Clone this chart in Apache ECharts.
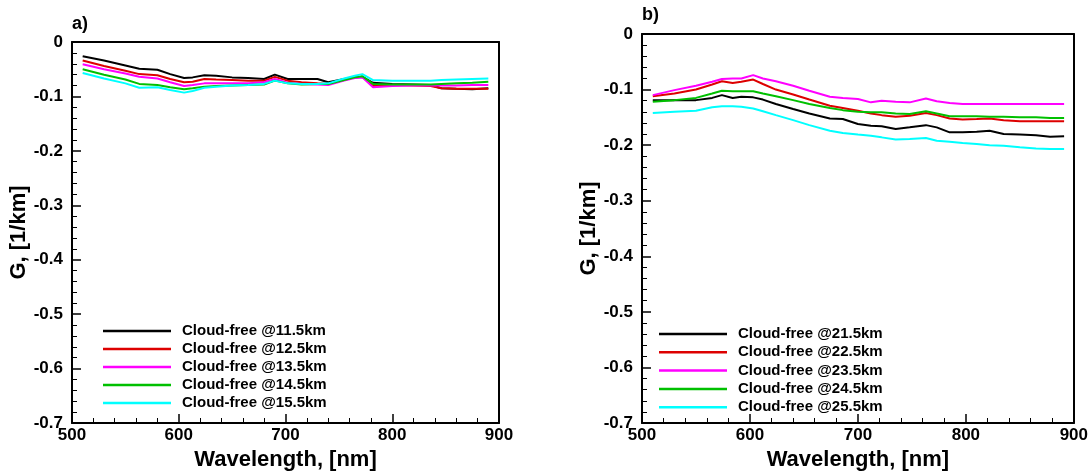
<!DOCTYPE html>
<html><head><meta charset="utf-8">
<script src="https://cdn.jsdelivr.net/npm/echarts@6/dist/echarts.min.js"></script>
<style>html,body{margin:0;padding:0;background:#fff}#c{width:1091px;height:476px}</style>
</head><body><div id="c"></div>
<script>
// ---- Panel a data ----
const waveA = [510,530,550,563,580,592,605,613,624,635,650,665,680,690,702,715,730,740,755,765,772,782,800,820,836,846,860,875,890];
const gA_11_5 = [-0.026,-0.034,-0.043,-0.049,-0.051,-0.059,-0.066,-0.065,-0.061,-0.062,-0.065,-0.066,-0.068,-0.060,-0.068,-0.068,-0.068,-0.074,-0.068,-0.065,-0.064,-0.075,-0.077,-0.078,-0.079,-0.085,-0.086,-0.087,-0.085];
const gA_12_5 = [-0.034,-0.044,-0.053,-0.059,-0.061,-0.068,-0.074,-0.073,-0.068,-0.069,-0.070,-0.071,-0.071,-0.064,-0.071,-0.074,-0.076,-0.077,-0.069,-0.065,-0.064,-0.081,-0.079,-0.080,-0.081,-0.085,-0.086,-0.086,-0.086];
const gA_13_5 = [-0.041,-0.050,-0.058,-0.064,-0.067,-0.074,-0.081,-0.079,-0.076,-0.076,-0.076,-0.076,-0.074,-0.068,-0.075,-0.077,-0.078,-0.079,-0.071,-0.066,-0.065,-0.083,-0.081,-0.080,-0.080,-0.080,-0.080,-0.079,-0.079];
const gA_14_5 = [-0.050,-0.060,-0.069,-0.077,-0.079,-0.083,-0.087,-0.085,-0.082,-0.081,-0.080,-0.079,-0.078,-0.071,-0.076,-0.078,-0.077,-0.077,-0.070,-0.065,-0.063,-0.077,-0.078,-0.078,-0.078,-0.077,-0.076,-0.075,-0.073];
const gA_15_5 = [-0.057,-0.067,-0.076,-0.084,-0.083,-0.088,-0.093,-0.090,-0.084,-0.082,-0.080,-0.079,-0.077,-0.071,-0.076,-0.077,-0.077,-0.076,-0.067,-0.062,-0.059,-0.070,-0.071,-0.071,-0.071,-0.070,-0.069,-0.068,-0.067];
const namesA = ['Cloud-free @11.5km','Cloud-free @12.5km','Cloud-free @13.5km','Cloud-free @14.5km','Cloud-free @15.5km'];

// ---- Panel b data ----
const waveB = [510,530,550,565,574,584,592,603,612,624,640,655,674,686,700,712,722,735,748,763,773,785,797,810,822,835,850,865,878,891];
const gB_21_5 = [-0.119,-0.119,-0.119,-0.115,-0.110,-0.115,-0.113,-0.114,-0.118,-0.126,-0.135,-0.143,-0.152,-0.153,-0.162,-0.165,-0.166,-0.171,-0.168,-0.164,-0.168,-0.177,-0.177,-0.176,-0.174,-0.180,-0.181,-0.182,-0.185,-0.184];
const gB_22_5 = [-0.112,-0.107,-0.100,-0.091,-0.085,-0.088,-0.086,-0.082,-0.090,-0.100,-0.109,-0.118,-0.129,-0.133,-0.138,-0.143,-0.146,-0.149,-0.147,-0.142,-0.146,-0.152,-0.154,-0.153,-0.152,-0.155,-0.157,-0.157,-0.157,-0.157];
const gB_23_5 = [-0.110,-0.101,-0.093,-0.086,-0.081,-0.080,-0.080,-0.074,-0.080,-0.085,-0.093,-0.102,-0.113,-0.115,-0.117,-0.123,-0.120,-0.122,-0.123,-0.116,-0.121,-0.124,-0.126,-0.126,-0.126,-0.126,-0.126,-0.126,-0.126,-0.126];
const gB_24_5 = [-0.122,-0.119,-0.115,-0.107,-0.102,-0.103,-0.103,-0.103,-0.107,-0.112,-0.119,-0.126,-0.133,-0.137,-0.140,-0.141,-0.141,-0.143,-0.144,-0.139,-0.143,-0.148,-0.148,-0.148,-0.149,-0.149,-0.150,-0.150,-0.151,-0.151];
const gB_25_5 = [-0.142,-0.140,-0.138,-0.132,-0.130,-0.130,-0.131,-0.134,-0.139,-0.146,-0.155,-0.164,-0.174,-0.178,-0.181,-0.183,-0.186,-0.190,-0.189,-0.187,-0.192,-0.194,-0.196,-0.198,-0.200,-0.201,-0.204,-0.206,-0.207,-0.207];
const namesB = ['Cloud-free @21.5km','Cloud-free @22.5km','Cloud-free @23.5km','Cloud-free @24.5km','Cloud-free @25.5km'];

const colors = ['#000000','#dd0000','#ff00ff','#00c000','#00ffff'];

const FONT = 'Liberation Sans, Arial, sans-serif';
function pair(xs, ys){ return xs.map((x,i)=>[x, ys[i]]); }

const seriesA = [gA_11_5,gA_12_5,gA_13_5,gA_14_5,gA_15_5];
const seriesB = [gB_21_5,gB_22_5,gB_23_5,gB_24_5,gB_25_5];

const tickStyle = {color:'#000', width:1.5};
function xAxisCfg(idx){
  return {
    gridIndex: idx, type:'value', position:'bottom', min:500, max:900, interval:100,
    name:'Wavelength, [nm]', nameLocation:'middle', nameGap:26,
    nameTextStyle:{fontFamily:FONT, fontWeight:'bold', fontSize:22, color:'#000'},
    axisLine:{show:true, onZero:false, lineStyle:{color:'#000', width:2}},
    axisTick:{show:true, inside:true, length:9, lineStyle:tickStyle},
    minorTick:{show:true, splitNumber:5, length:5, lineStyle:{color:'#000', width:1}},
    axisLabel:{show:true, fontFamily:FONT, fontWeight:'bold', fontSize:17, color:'#000', margin:4},
    splitLine:{show:false}, minorSplitLine:{show:false}, z:5
  };
}
function xTopCfg(idx){
  return {
    gridIndex: idx, type:'value', position:'top', min:500, max:900, interval:100,
    axisLine:{show:true, onZero:false, lineStyle:{color:'#000', width:2}},
    axisTick:{show:false}, axisLabel:{show:false}, splitLine:{show:false}, z:5
  };
}
function yAxisCfg(idx){
  return {
    gridIndex: idx, type:'value', position:'left', min:-0.7, max:0, interval:0.1,
    name:'G, [1/km]', nameLocation:'middle', nameGap:39, nameRotate:90,
    nameTextStyle:{fontFamily:FONT, fontWeight:'bold', fontSize:22, color:'#000'},
    axisLine:{show:true, onZero:false, lineStyle:{color:'#000', width:2}},
    axisTick:{show:true, inside:true, length:9, lineStyle:tickStyle},
    minorTick:{show:true, splitNumber:5, length:5, lineStyle:{color:'#000', width:1}},
    axisLabel:{show:true, fontFamily:FONT, fontWeight:'bold', fontSize:17, color:'#000', margin:9,
      formatter: v => (Math.abs(v) < 1e-9 ? '0' : v.toFixed(1))},
    splitLine:{show:false}, minorSplitLine:{show:false}, z:5
  };
}
function yRightCfg(idx){
  return {
    gridIndex: idx, type:'value', position:'right', min:-0.7, max:0, interval:0.1,
    axisLine:{show:true, onZero:false, lineStyle:{color:'#000', width:2}},
    axisTick:{show:false}, axisLabel:{show:false}, splitLine:{show:false}, z:5
  };
}

const series = [];
seriesA.forEach((ys,i)=>series.push({
  name:namesA[i], type:'line', xAxisIndex:0, yAxisIndex:0, data:pair(waveA, ys),
  showSymbol:false, symbol:'none', lineStyle:{color:colors[i], width:2}, itemStyle:{color:colors[i]},
  animation:false, z: 3
}));
seriesB.forEach((ys,i)=>series.push({
  name:namesB[i], type:'line', xAxisIndex:1, yAxisIndex:1, data:pair(waveB, ys),
  showSymbol:false, symbol:'none', lineStyle:{color:colors[i], width:2}, itemStyle:{color:colors[i]},
  animation:false, z: 3
}));

const legendCommon = {
  orient:'vertical', icon:'rect', itemWidth:68, itemHeight:2.5, itemGap:3, padding:0,
  textStyle:{fontFamily:FONT, fontWeight:'bold', fontSize:15, color:'#000', lineHeight:15, padding:[0,0,0,6]},
  selectedMode:false
};

const chart = echarts.init(document.getElementById('c'), null, {renderer:'canvas'});
chart.setOption({
  backgroundColor:'#fff',
  animation:false,
  title:[
    {text:'a)', left:72, top:15, padding:0, textStyle:{fontFamily:FONT, fontWeight:'bold', fontSize:18, color:'#000'}},
    {text:'b)', left:642, top:6, padding:0, textStyle:{fontFamily:FONT, fontWeight:'bold', fontSize:18, color:'#000'}}
  ],
  grid:[
    {left:72, top:42, width:427, height:387, show:false},
    {left:642, top:34, width:433, height:394, show:false}
  ],
  xAxis:[xAxisCfg(0), xAxisCfg(1), xTopCfg(0), xTopCfg(1)],
  yAxis:[yAxisCfg(0), yAxisCfg(1), yRightCfg(0), yRightCfg(1)],
  legend:[
    Object.assign({}, legendCommon, {data:namesA, left:103, top:323.5}),
    Object.assign({}, legendCommon, {data:namesB, left:659, top:326.5, itemGap:3.3})
  ],
  series: series
});
</script></body></html>
